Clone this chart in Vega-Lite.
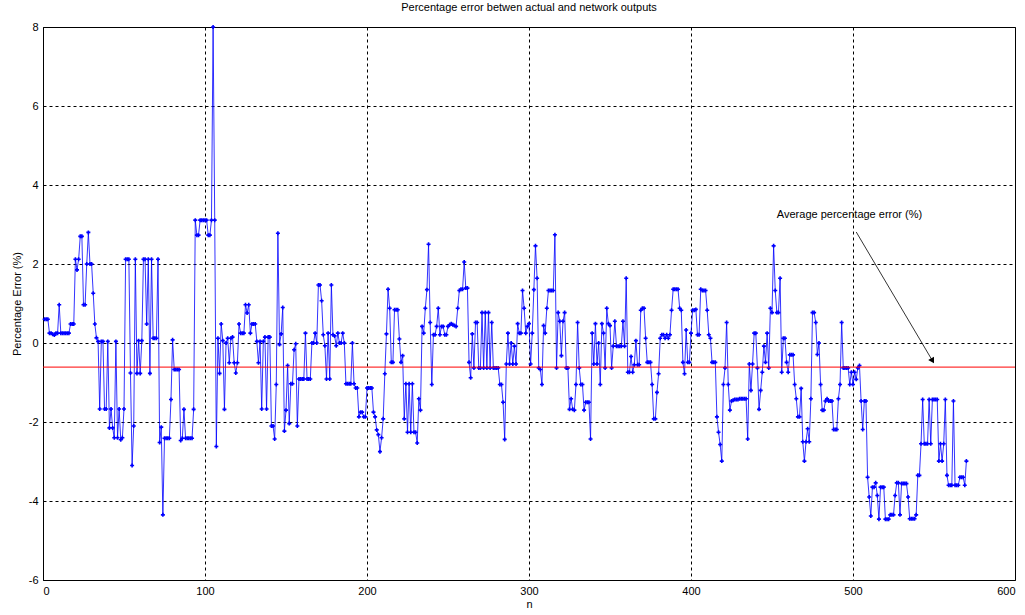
{
  "$schema": "https://vega.github.io/schema/vega-lite/v6.json",
  "autosize": "none",
  "width": 972,
  "height": 553,
  "padding": {"left": 43, "top": 27, "right": 10, "bottom": 35},
  "background": "white",
  "title": {"text": "Percentage error betwen actual and network outputs", "fontSize": 11, "fontWeight": "normal", "font": "Liberation Sans", "color": "black", "offset": 8, "anchor": "middle"},
  "config": {
    "font": "Liberation Sans",
    "view": {"stroke": "black", "strokeWidth": 1},
    "axis": {"labelFont": "Liberation Sans", "labelFontSize": 11, "labelColor": "black", "titleFont": "Liberation Sans", "titleFontSize": 11, "titleFontWeight": "normal", "titleColor": "black", "grid": true, "gridColor": "black", "gridDash": [3, 3], "gridOpacity": 1, "gridWidth": 1, "domain": false, "ticks": false}
  },
  "datasets": {
    "err": [
{"n":1,"e":0.6},{"n":2,"e":0.6},{"n":3,"e":0.6},{"n":4,"e":0.25},{"n":5,"e":0.25},{"n":6,"e":0.22},{"n":7,"e":0.2},{"n":8,"e":0.25},{"n":9,"e":0.25},{"n":10,"e":0.97},
{"n":11,"e":0.25},{"n":12,"e":0.25},{"n":13,"e":0.25},{"n":14,"e":0.25},{"n":15,"e":0.25},{"n":16,"e":0.25},{"n":17,"e":0.48},{"n":18,"e":0.48},{"n":19,"e":0.48},{"n":20,"e":2.12},
{"n":21,"e":1.85},{"n":22,"e":2.12},{"n":23,"e":2.7},{"n":24,"e":2.7},{"n":25,"e":0.97},{"n":26,"e":0.97},{"n":27,"e":2.0},{"n":28,"e":2.8},{"n":29,"e":2.0},{"n":30,"e":2.0},
{"n":31,"e":1.26},{"n":32,"e":0.48},{"n":33,"e":0.13},{"n":34,"e":0.04},{"n":35,"e":-1.67},{"n":36,"e":0.04},{"n":37,"e":0.04},{"n":38,"e":-1.67},{"n":39,"e":-1.67},{"n":40,"e":0.04},
{"n":41,"e":-2.15},{"n":42,"e":-1.67},{"n":43,"e":-2.15},{"n":44,"e":-2.4},{"n":45,"e":0.04},{"n":46,"e":-2.4},{"n":47,"e":-1.67},{"n":48,"e":-2.45},{"n":49,"e":-2.4},{"n":50,"e":-1.67},
{"n":51,"e":2.12},{"n":52,"e":2.12},{"n":53,"e":2.12},{"n":54,"e":-0.76},{"n":55,"e":-3.1},{"n":56,"e":-2.1},{"n":57,"e":2.12},{"n":58,"e":-0.77},{"n":59,"e":0.06},{"n":60,"e":-0.77},
{"n":61,"e":0.06},{"n":62,"e":2.12},{"n":63,"e":2.12},{"n":64,"e":0.48},{"n":65,"e":2.12},{"n":66,"e":-0.77},{"n":67,"e":2.12},{"n":68,"e":0.12},{"n":69,"e":0.12},{"n":70,"e":0.12},
{"n":71,"e":2.12},{"n":72,"e":-2.52},{"n":73,"e":-2.13},{"n":74,"e":-4.35},{"n":75,"e":-2.41},{"n":76,"e":-2.41},{"n":77,"e":-2.41},{"n":78,"e":-2.41},{"n":79,"e":-1.43},{"n":80,"e":0.08},
{"n":81,"e":-0.67},{"n":82,"e":-0.67},{"n":83,"e":-0.67},{"n":84,"e":-0.67},{"n":85,"e":-2.47},{"n":86,"e":-2.41},{"n":87,"e":-1.68},{"n":88,"e":-2.41},{"n":89,"e":-2.41},{"n":90,"e":-2.41},
{"n":91,"e":-2.41},{"n":92,"e":-2.41},{"n":93,"e":-1.68},{"n":94,"e":3.11},{"n":95,"e":2.73},{"n":96,"e":2.73},{"n":97,"e":3.11},{"n":98,"e":3.11},{"n":99,"e":3.11},{"n":100,"e":3.11},
{"n":101,"e":3.11},{"n":102,"e":2.73},{"n":103,"e":2.73},{"n":104,"e":3.11},{"n":105,"e":8.0},{"n":106,"e":3.11},{"n":107,"e":-2.62},{"n":108,"e":0.12},{"n":109,"e":-0.77},{"n":110,"e":0.48},
{"n":111,"e":0.06},{"n":112,"e":-1.68},{"n":113,"e":0.0},{"n":114,"e":0.12},{"n":115,"e":-0.5},{"n":116,"e":0.12},{"n":117,"e":0.15},{"n":118,"e":-0.5},{"n":119,"e":-0.76},{"n":120,"e":-0.5},
{"n":121,"e":0.48},{"n":122,"e":0.25},{"n":123,"e":0.25},{"n":124,"e":0.25},{"n":125,"e":0.97},{"n":126,"e":0.76},{"n":127,"e":0.97},{"n":128,"e":0.25},{"n":129,"e":0.48},{"n":130,"e":0.48},
{"n":131,"e":0.48},{"n":132,"e":0.04},{"n":133,"e":-0.5},{"n":134,"e":0.04},{"n":135,"e":-1.67},{"n":136,"e":0.04},{"n":137,"e":0.15},{"n":138,"e":-1.67},{"n":139,"e":0.15},{"n":140,"e":0.15},
{"n":141,"e":-2.1},{"n":142,"e":-2.1},{"n":143,"e":-2.43},{"n":144,"e":-1.05},{"n":145,"e":2.78},{"n":146,"e":-0.04},{"n":147,"e":0.23},{"n":148,"e":0.9},{"n":149,"e":-2.23},{"n":150,"e":-1.7},
{"n":151,"e":-0.57},{"n":152,"e":-2.04},{"n":153,"e":-1.03},{"n":154,"e":-1.03},{"n":155,"e":-0.17},{"n":156,"e":-0.02},{"n":157,"e":-2.1},{"n":158,"e":-0.91},{"n":159,"e":-0.91},{"n":160,"e":-0.91},
{"n":161,"e":-0.91},{"n":162,"e":0.25},{"n":163,"e":-0.91},{"n":164,"e":-0.91},{"n":165,"e":-0.91},{"n":166,"e":0.0},{"n":167,"e":0.0},{"n":168,"e":0.25},{"n":169,"e":0.0},{"n":170,"e":1.47},
{"n":171,"e":1.47},{"n":172,"e":1.07},{"n":173,"e":0.21},{"n":174,"e":-0.07},{"n":175,"e":-0.91},{"n":176,"e":0.25},{"n":177,"e":-0.91},{"n":178,"e":1.47},{"n":179,"e":0.21},{"n":180,"e":0.18},
{"n":181,"e":-0.07},{"n":182,"e":0.25},{"n":183,"e":0.0},{"n":184,"e":0.0},{"n":185,"e":0.25},{"n":186,"e":0.0},{"n":187,"e":-1.03},{"n":188,"e":-1.03},{"n":189,"e":-1.03},{"n":190,"e":-1.03},
{"n":191,"e":0.0},{"n":192,"e":-1.03},{"n":193,"e":-1.14},{"n":194,"e":-1.14},{"n":195,"e":-1.87},{"n":196,"e":-1.75},{"n":197,"e":-1.75},{"n":198,"e":-1.87},{"n":199,"e":-1.87},{"n":200,"e":-1.14},
{"n":201,"e":-1.14},{"n":202,"e":-1.14},{"n":203,"e":-1.14},{"n":204,"e":-1.75},{"n":205,"e":-1.87},{"n":206,"e":-2.2},{"n":207,"e":-2.32},{"n":208,"e":-2.75},{"n":209,"e":-2.4},{"n":210,"e":-1.92},
{"n":211,"e":-0.78},{"n":212,"e":0.23},{"n":213,"e":1.36},{"n":214,"e":0.88},{"n":215,"e":-0.49},{"n":216,"e":-0.49},{"n":217,"e":0.84},{"n":218,"e":0.84},{"n":219,"e":0.84},{"n":220,"e":0.1},
{"n":221,"e":-0.49},{"n":222,"e":-0.32},{"n":223,"e":-1.92},{"n":224,"e":-1.03},{"n":225,"e":-2.26},{"n":226,"e":-1.03},{"n":227,"e":-2.26},{"n":228,"e":-1.03},{"n":229,"e":-2.26},{"n":230,"e":-2.26},
{"n":231,"e":-2.53},{"n":232,"e":-1.41},{"n":233,"e":-1.7},{"n":234,"e":0.42},{"n":235,"e":0.25},{"n":236,"e":0.88},{"n":237,"e":1.35},{"n":238,"e":2.5},{"n":239,"e":0.52},{"n":240,"e":-1.05},
{"n":241,"e":0.21},{"n":242,"e":0.21},{"n":243,"e":0.42},{"n":244,"e":0.88},{"n":245,"e":0.21},{"n":246,"e":0.42},{"n":247,"e":0.42},{"n":248,"e":0.21},{"n":249,"e":0.21},{"n":250,"e":0.42},
{"n":251,"e":0.46},{"n":252,"e":0.49},{"n":253,"e":0.46},{"n":254,"e":0.44},{"n":255,"e":0.42},{"n":256,"e":0.88},{"n":257,"e":1.33},{"n":258,"e":1.36},{"n":259,"e":1.36},{"n":260,"e":2.05},
{"n":261,"e":1.39},{"n":262,"e":1.39},{"n":263,"e":-0.49},{"n":264,"e":-0.88},{"n":265,"e":0.23},{"n":266,"e":-0.63},{"n":267,"e":0.52},{"n":268,"e":0.52},{"n":269,"e":-0.63},{"n":270,"e":-0.63},
{"n":271,"e":0.77},{"n":272,"e":-0.63},{"n":273,"e":0.77},{"n":274,"e":-0.63},{"n":275,"e":0.77},{"n":276,"e":-0.63},{"n":277,"e":0.52},{"n":278,"e":-0.63},{"n":279,"e":-0.63},{"n":280,"e":-0.63},
{"n":281,"e":-0.63},{"n":282,"e":-1.05},{"n":283,"e":-1.05},{"n":284,"e":-1.5},{"n":285,"e":-2.44},{"n":286,"e":-0.53},{"n":287,"e":0.25},{"n":288,"e":-0.53},{"n":289,"e":0.0},{"n":290,"e":-0.53},
{"n":291,"e":-0.08},{"n":292,"e":-0.53},{"n":293,"e":0.49},{"n":294,"e":0.25},{"n":295,"e":0.25},{"n":296,"e":1.33},{"n":297,"e":0.88},{"n":298,"e":0.25},{"n":299,"e":0.42},{"n":300,"e":0.49},
{"n":301,"e":-0.53},{"n":302,"e":0.25},{"n":303,"e":1.35},{"n":304,"e":2.46},{"n":305,"e":1.64},{"n":306,"e":-0.63},{"n":307,"e":-0.67},{"n":308,"e":-1.05},{"n":309,"e":0.44},{"n":310,"e":0.25},
{"n":311,"e":0.88},{"n":312,"e":1.33},{"n":313,"e":1.33},{"n":314,"e":1.33},{"n":315,"e":1.33},{"n":316,"e":2.74},{"n":317,"e":-0.63},{"n":318,"e":0.77},{"n":319,"e":0.55},{"n":320,"e":-0.32},
{"n":321,"e":0.55},{"n":322,"e":0.77},{"n":323,"e":-0.63},{"n":324,"e":-0.63},{"n":325,"e":-1.68},{"n":326,"e":-1.41},{"n":327,"e":-1.68},{"n":328,"e":-1.7},{"n":329,"e":-1.05},{"n":330,"e":0.52},
{"n":331,"e":-0.63},{"n":332,"e":-1.05},{"n":333,"e":-1.05},{"n":334,"e":-1.7},{"n":335,"e":-1.5},{"n":336,"e":-1.5},{"n":337,"e":-1.5},{"n":338,"e":-2.43},{"n":339,"e":0.25},{"n":340,"e":-0.53},
{"n":341,"e":0.49},{"n":342,"e":-0.53},{"n":343,"e":0.0},{"n":344,"e":-1.05},{"n":345,"e":0.49},{"n":346,"e":0.25},{"n":347,"e":-0.63},{"n":348,"e":0.88},{"n":349,"e":0.49},{"n":350,"e":0.44},
{"n":351,"e":-0.63},{"n":352,"e":-0.08},{"n":353,"e":0.55},{"n":354,"e":-0.08},{"n":355,"e":-0.08},{"n":356,"e":-0.08},{"n":357,"e":-0.08},{"n":358,"e":0.55},{"n":359,"e":-0.08},{"n":360,"e":1.64},
{"n":361,"e":-0.74},{"n":362,"e":-0.74},{"n":363,"e":-0.34},{"n":364,"e":-0.74},{"n":365,"e":-0.55},{"n":366,"e":0.06},{"n":367,"e":-0.55},{"n":368,"e":-0.55},{"n":369,"e":0.83},{"n":370,"e":0.88},
{"n":371,"e":0.88},{"n":372,"e":0.12},{"n":373,"e":-0.49},{"n":374,"e":-0.49},{"n":375,"e":-0.49},{"n":376,"e":-1.05},{"n":377,"e":-1.92},{"n":378,"e":-1.92},{"n":379,"e":-1.25},{"n":380,"e":-0.78},
{"n":381,"e":0.12},{"n":382,"e":0.21},{"n":383,"e":0.21},{"n":384,"e":0.12},{"n":385,"e":0.21},{"n":386,"e":0.12},{"n":387,"e":0.21},{"n":388,"e":0.83},{"n":389,"e":1.36},{"n":390,"e":1.36},
{"n":391,"e":1.36},{"n":392,"e":1.36},{"n":393,"e":0.88},{"n":394,"e":0.83},{"n":395,"e":-0.49},{"n":396,"e":-0.78},{"n":397,"e":0.33},{"n":398,"e":-0.49},{"n":399,"e":-0.49},{"n":400,"e":0.25},
{"n":401,"e":0.83},{"n":402,"e":0.83},{"n":403,"e":0.85},{"n":404,"e":0.21},{"n":405,"e":0.21},{"n":406,"e":1.36},{"n":407,"e":1.33},{"n":408,"e":1.33},{"n":409,"e":1.33},{"n":410,"e":0.83},
{"n":411,"e":0.21},{"n":412,"e":0.12},{"n":413,"e":-0.49},{"n":414,"e":-0.49},{"n":415,"e":-0.49},{"n":416,"e":-1.87},{"n":417,"e":-2.26},{"n":418,"e":-2.57},{"n":419,"e":-2.99},{"n":420,"e":-1.05},
{"n":421,"e":-0.63},{"n":422,"e":0.52},{"n":423,"e":-1.05},{"n":424,"e":-1.7},{"n":425,"e":-1.47},{"n":426,"e":-1.45},{"n":427,"e":-1.43},{"n":428,"e":-1.43},{"n":429,"e":-1.43},{"n":430,"e":-1.41},
{"n":431,"e":-1.41},{"n":432,"e":-1.41},{"n":433,"e":-1.41},{"n":434,"e":-1.41},{"n":435,"e":-2.43},{"n":436,"e":-0.53},{"n":437,"e":-1.2},{"n":438,"e":-0.53},{"n":439,"e":0.25},{"n":440,"e":0.25},
{"n":441,"e":-0.63},{"n":442,"e":-1.68},{"n":443,"e":-1.2},{"n":444,"e":-0.74},{"n":445,"e":-0.08},{"n":446,"e":-0.49},{"n":447,"e":0.25},{"n":448,"e":-0.63},{"n":449,"e":0.88},{"n":450,"e":0.77},
{"n":451,"e":2.46},{"n":452,"e":1.33},{"n":453,"e":0.77},{"n":454,"e":0.77},{"n":455,"e":1.64},{"n":456,"e":-0.74},{"n":457,"e":0.12},{"n":458,"e":0.12},{"n":459,"e":-0.49},{"n":460,"e":-0.74},
{"n":461,"e":-0.3},{"n":462,"e":-0.3},{"n":463,"e":-0.3},{"n":464,"e":-1.05},{"n":465,"e":-1.41},{"n":466,"e":-1.87},{"n":467,"e":-1.87},{"n":468,"e":-1.15},{"n":469,"e":-2.5},{"n":470,"e":-2.99},
{"n":471,"e":-2.5},{"n":472,"e":-2.17},{"n":473,"e":-2.5},{"n":474,"e":-1.41},{"n":475,"e":0.77},{"n":476,"e":0.77},{"n":477,"e":0.52},{"n":478,"e":-0.29},{"n":479,"e":0.0},{"n":480,"e":-1.05},
{"n":481,"e":-1.7},{"n":482,"e":-1.7},{"n":483,"e":-1.47},{"n":484,"e":-1.41},{"n":485,"e":-1.47},{"n":486,"e":-1.47},{"n":487,"e":-1.47},{"n":488,"e":-2.19},{"n":489,"e":-2.19},{"n":490,"e":-2.19},
{"n":491,"e":-1.41},{"n":492,"e":-1.05},{"n":493,"e":0.52},{"n":494,"e":-0.63},{"n":495,"e":-0.63},{"n":496,"e":-0.63},{"n":497,"e":-0.63},{"n":498,"e":-1.05},{"n":499,"e":-0.74},{"n":500,"e":-1.05},
{"n":501,"e":-0.74},{"n":502,"e":-0.92},{"n":503,"e":-0.63},{"n":504,"e":-0.57},{"n":505,"e":-1.47},{"n":506,"e":-2.19},{"n":507,"e":-1.47},{"n":508,"e":-1.47},{"n":509,"e":-3.4},{"n":510,"e":-3.9},
{"n":511,"e":-4.38},{"n":512,"e":-3.65},{"n":513,"e":-3.65},{"n":514,"e":-3.54},{"n":515,"e":-3.86},{"n":516,"e":-4.46},{"n":517,"e":-3.65},{"n":518,"e":-3.65},{"n":519,"e":-3.65},{"n":520,"e":-4.46},
{"n":521,"e":-4.46},{"n":522,"e":-4.46},{"n":523,"e":-4.35},{"n":524,"e":-4.35},{"n":525,"e":-4.35},{"n":526,"e":-3.86},{"n":527,"e":-3.54},{"n":528,"e":-3.54},{"n":529,"e":-4.35},{"n":530,"e":-3.56},
{"n":531,"e":-3.56},{"n":532,"e":-3.56},{"n":533,"e":-3.56},{"n":534,"e":-3.9},{"n":535,"e":-4.45},{"n":536,"e":-4.45},{"n":537,"e":-4.45},{"n":538,"e":-4.45},{"n":539,"e":-4.35},{"n":540,"e":-3.35},
{"n":541,"e":-3.35},{"n":542,"e":-2.55},{"n":543,"e":-1.43},{"n":544,"e":-2.55},{"n":545,"e":-2.55},{"n":546,"e":-2.55},{"n":547,"e":-1.43},{"n":548,"e":-2.55},{"n":549,"e":-1.43},{"n":550,"e":-1.43},
{"n":551,"e":-1.43},{"n":552,"e":-1.43},{"n":553,"e":-2.99},{"n":554,"e":-2.55},{"n":555,"e":-2.99},{"n":556,"e":-2.55},{"n":557,"e":-1.43},{"n":558,"e":-3.35},{"n":559,"e":-3.6},{"n":560,"e":-3.6},
{"n":561,"e":-3.6},{"n":562,"e":-1.47},{"n":563,"e":-3.6},{"n":564,"e":-3.6},{"n":565,"e":-3.6},{"n":566,"e":-3.4},{"n":567,"e":-3.4},{"n":568,"e":-3.4},{"n":569,"e":-3.6},{"n":570,"e":-2.99}
    ]
  },
  "layer": [
    {
      "data": {"name": "err"},
      "mark": {"type": "line", "color": "#0000ff", "strokeWidth": 0.8},
      "encoding": {
        "x": {"field": "n", "type": "quantitative", "scale": {"domain": [0, 600], "nice": false, "zero": false}, "axis": {"values": [0, 100, 200, 300, 400, 500, 600], "title": "n", "labelPadding": 5, "titlePadding": 2, "labelExpr": "replace(datum.label, '\u2212', '-')"}},
        "y": {"field": "e", "type": "quantitative", "scale": {"domain": [-6, 8], "nice": false, "zero": false}, "axis": {"values": [-6, -4, -2, 0, 2, 4, 6, 8], "title": "Percentage Error (%)", "labelPadding": 5, "titlePadding": 6, "labelExpr": "replace(datum.label, '\u2212', '-')"}}
      }
    },
    {
      "data": {"name": "err"},
      "mark": {"type": "point", "shape": "cross", "filled": true, "color": "#0000ff", "size": 16, "opacity": 1},
      "encoding": {
        "x": {"field": "n", "type": "quantitative"},
        "y": {"field": "e", "type": "quantitative"}
      }
    },
    {
      "data": {"values": [{"avg": -0.61}]},
      "mark": {"type": "rule", "color": "#ff0000", "strokeWidth": 1},
      "encoding": {"y": {"field": "avg", "type": "quantitative"}}
    },
    {
      "data": {"values": [{"x1": 502, "y1": 2.81, "x2": 549.5, "y2": -0.48}]},
      "mark": {"type": "rule", "color": "black", "strokeWidth": 0.8},
      "encoding": {
        "x": {"field": "x1", "type": "quantitative"},
        "y": {"field": "y1", "type": "quantitative"},
        "x2": {"field": "x2"},
        "y2": {"field": "y2"}
      }
    },
    {
      "data": {"values": [{"x": 548.8, "y": -0.43}]},
      "mark": {"type": "point", "shape": "triangle", "angle": 150, "filled": true, "color": "black", "size": 45, "opacity": 1},
      "encoding": {
        "x": {"field": "x", "type": "quantitative"},
        "y": {"field": "y", "type": "quantitative"}
      }
    },
    {
      "data": {"values": [{"x": 453, "y": 3.24, "label": "Average percentage error (%)"}]},
      "mark": {"type": "text", "align": "left", "baseline": "middle", "fontSize": 11, "font": "Liberation Sans", "color": "black"},
      "encoding": {
        "x": {"field": "x", "type": "quantitative"},
        "y": {"field": "y", "type": "quantitative"},
        "text": {"field": "label"}
      }
    }
  ]
}
